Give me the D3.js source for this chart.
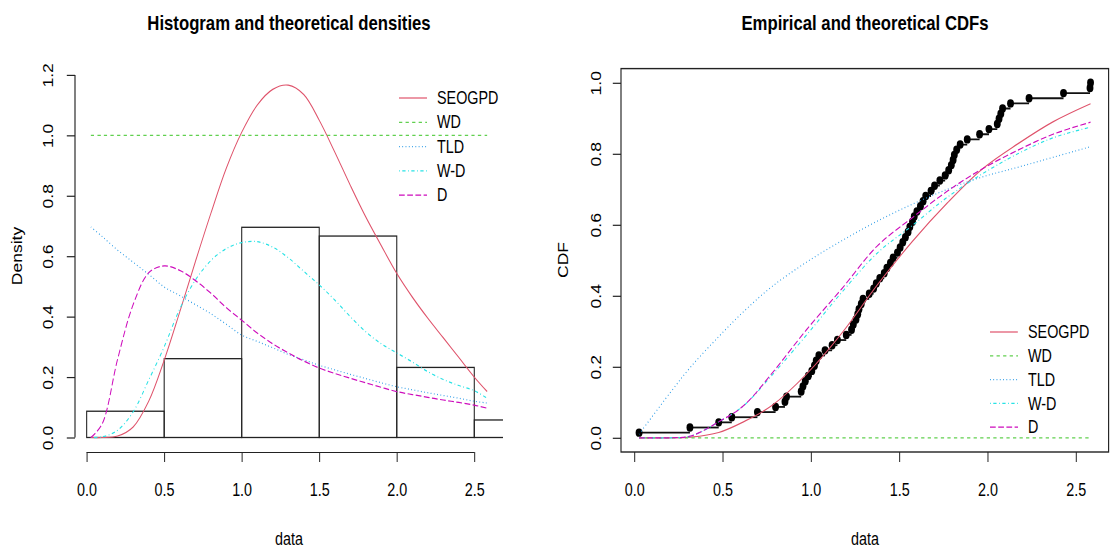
<!DOCTYPE html>
<html>
<head>
<meta charset="utf-8">
<script src="https://cdn.jsdelivr.net/npm/d3@7"></script>
<style>
  body { margin: 0; background: #fff; }
  text { font-family: "Liberation Sans", Arial, sans-serif; fill: #000; }
</style>
</head>
<body>
<svg id="chart"></svg>
<script>
var data = [0.027, 0.315, 0.478,
  0.552, 0.697, 0.800, 0.853, 0.862, 0.945, 0.955, 0.968, 0.985,
  1.005, 1.02, 1.03, 1.045, 1.08, 1.12, 1.15, 1.20, 1.23, 1.24, 1.255, 1.265,
  1.272, 1.285, 1.295, 1.33, 1.355, 1.37, 1.39, 1.415, 1.43, 1.45, 1.465, 1.49,
  1.505, 1.52, 1.535, 1.55, 1.56, 1.575, 1.585, 1.60, 1.62, 1.635, 1.65, 1.68,
  1.70, 1.73, 1.76, 1.78, 1.795, 1.805, 1.812, 1.825, 1.845, 1.885, 1.955,
  2.008, 2.055, 2.065, 2.075, 2.085, 2.13, 2.235, 2.43,
  2.58, 2.583];

var histBreaks = [0.5, 1, 1.5, 2, 2.5];

// theoretical densities
var densX      = [0.027, 0.1, 0.2, 0.3, 0.4, 0.5, 0.6, 0.7, 0.8, 0.9, 1.0, 1.1, 1.2, 1.3, 1.4, 1.5, 1.6, 1.7, 1.8, 1.9, 2.0, 2.1, 2.2, 2.3, 2.4, 2.5, 2.583];
var seogpdDens = [0, 0, 0.005, 0.035, 0.12, 0.256, 0.415, 0.58, 0.74, 0.89, 1.01, 1.1, 1.152, 1.166, 1.135, 1.05, 0.945, 0.835, 0.73, 0.635, 0.543, 0.465, 0.395, 0.33, 0.265, 0.2, 0.152];
var wdDens     = [1, 1, 1, 1, 1, 1, 1, 1, 1, 1, 1, 1, 1, 1, 1, 1, 1, 1, 1, 1, 1, 1, 1, 1, 1, 1, 1];
var tldDens    = [0.697, 0.665, 0.62, 0.58, 0.54, 0.498, 0.47, 0.44, 0.41, 0.375, 0.339, 0.318, 0.297, 0.275, 0.257, 0.239, 0.224, 0.209, 0.195, 0.181, 0.168, 0.158, 0.148, 0.139, 0.13, 0.12, 0.114];
var wdmDens    = [0, 0.002, 0.024, 0.085, 0.19, 0.30, 0.425, 0.52, 0.585, 0.625, 0.645, 0.648, 0.63, 0.595, 0.55, 0.505, 0.455, 0.4, 0.35, 0.31, 0.28, 0.25, 0.218, 0.192, 0.172, 0.155, 0.13];
var dDens      = [0, 0.045, 0.26, 0.44, 0.545, 0.568, 0.553, 0.52, 0.478, 0.43, 0.388, 0.346, 0.31, 0.28, 0.253, 0.23, 0.212, 0.196, 0.181, 0.166, 0.152, 0.142, 0.133, 0.124, 0.116, 0.107, 0.097];

// theoretical CDFs
var cdfX      = [0.027, 0.2, 0.32, 0.478, 0.618, 0.777, 0.976, 1.175, 1.375, 1.574, 1.773, 1.972, 2.171, 2.37, 2.583];
var seogpdCdf = [0, 0, 0.002, 0.015, 0.045, 0.09, 0.18, 0.295, 0.43, 0.553, 0.662, 0.758, 0.828, 0.89, 0.941];
var wdCdf     = [0, 0, 0, 0, 0, 0, 0, 0, 0, 0, 0, 0, 0, 0, 0];
var tldCdf    = [0.01, 0.125, 0.2, 0.285, 0.355, 0.425, 0.495, 0.555, 0.61, 0.658, 0.70, 0.735, 0.762, 0.79, 0.82];
var wdmCdf    = [0, 0, 0.005, 0.045, 0.09, 0.175, 0.29, 0.41, 0.52, 0.598, 0.678, 0.744, 0.80, 0.845, 0.875];
var dCdf      = [0, 0, 0.005, 0.045, 0.09, 0.18, 0.305, 0.42, 0.54, 0.62, 0.695, 0.758, 0.81, 0.855, 0.889];

var models = ["SEOGPD", "WD", "TLD", "W-D", "D"];
var colors = ["#DF536B", "#61D04F", "#2297E6", "#28E2E5", "#CD0BBC"];
var dashes = [null, "4,4", "1,3", "1,3,4,3", "7,3"];

var xTicks = [0, 0.5, 1, 1.5, 2, 2.5];
var densTicks = [0, 0.2, 0.4, 0.6, 0.8, 1.0, 1.2];
var cdfTicks = [0, 0.2, 0.4, 0.6, 0.8, 1.0];

// the picture is squeezed sideways, so draw wider and squash with the viewBox
var S = 0.82, W = 1112 / S;
function X(px) { return px / S; }

var svg = d3.select("#chart")
    .attr("width", 1112).attr("height", 550)
    .attr("viewBox", "0 0 " + W + " 550")
    .attr("preserveAspectRatio", "none");

var fmt = d3.format(".1f");
var ext = d3.extent(data), pad = 0.04 * (ext[1] - ext[0]);

function curves(g, xs, series, x, y) {
    var line = d3.line()
        .x(function(d) { return x(d[0]); })
        .y(function(d) { return y(d[1]); })
        .curve(d3.curveCatmullRom.alpha(0.5));
    series.forEach(function(s, i) {
        g.append("path")
            .attr("d", line(xs.map(function(v, j) { return [v, s[j]]; })))
            .attr("fill", "none")
            .attr("stroke", colors[i])
            .attr("stroke-width", 1.2)
            .attr("stroke-dasharray", dashes[i]);
    });
}

function legend(x0, y0, step) {
    var lg = svg.append("g");
    models.forEach(function(m, i) {
        var yy = y0 + i * step;
        lg.append("line")
            .attr("x1", X(x0)).attr("x2", X(x0 + 28))
            .attr("y1", yy).attr("y2", yy)
            .attr("stroke", colors[i]).attr("stroke-width", 1.2)
            .attr("stroke-dasharray", dashes[i]);
        lg.append("text")
            .attr("x", X(x0 + 38)).attr("y", yy).attr("dy", "0.35em")
            .style("font-size", "17.5px")
            .text(m);
    });
}

function bottomAxis(x, y0) {
    var g = svg.append("g")
        .attr("transform", "translate(0," + y0 + ")")
        .call(d3.axisBottom(x).tickValues(xTicks).tickSize(10).tickFormat(fmt));
    g.select(".domain").remove();
    g.selectAll("line").attr("stroke", "#222").attr("stroke-width", 1.2);
    g.selectAll("text").attr("y", 38).attr("dy", "0.35em")
        .style("font-size", "17.5px").style("font-family", null);
    return g;
}

function leftAxis(y, x0, ticks, off) {
    var g = svg.append("g")
        .attr("transform", "translate(" + x0 + ",0)")
        .call(d3.axisLeft(y).tickValues(ticks).tickSize(10).tickFormat(fmt));
    g.select(".domain").remove();
    g.selectAll("line").attr("stroke", "#222").attr("stroke-width", 1.2);
    g.selectAll("text")
        .attr("x", null).attr("dy", "0.35em")
        .attr("text-anchor", "middle")
        .attr("transform", "translate(" + X(-off) + ",0) rotate(-90)")
        .style("font-size", "17.5px").style("font-family", null);
    return g;
}

// ---------- left panel: histogram and densities ----------
var xL = d3.scaleLinear().domain([ext[0] - pad, ext[1] + pad]).range([X(75), X(503)]);
var yL = d3.scaleLinear().domain([-0.048, 1.248]).range([452, 60.4]);

svg.append("clipPath").attr("id", "clipL").append("rect")
    .attr("x", X(75)).attr("y", 60.4).attr("width", X(503) - X(75)).attr("height", 452 - 60.4);

var gL = svg.append("g").attr("clip-path", "url(#clipL)");

var bins = d3.bin().domain([0, 3]).thresholds(histBreaks)(data);
gL.selectAll("rect.bar").data(bins).enter().append("rect")
    .attr("class", "bar")
    .attr("x", function(b) { return xL(b.x0); })
    .attr("width", function(b) { return xL(b.x1) - xL(b.x0); })
    .attr("y", function(b) { return yL(b.length / (data.length * (b.x1 - b.x0))); })
    .attr("height", function(b) { return yL(0) - yL(b.length / (data.length * (b.x1 - b.x0))); })
    .attr("fill", "none").attr("stroke", "#222").attr("stroke-width", 1.3);

curves(gL, densX, [seogpdDens, wdDens, tldDens, wdmDens, dDens], xL, yL);

bottomAxis(xL, 452);
svg.append("line")
    .attr("x1", xL(0)).attr("x2", xL(2.5)).attr("y1", 452.5).attr("y2", 452.5)
    .attr("stroke", "#222").attr("stroke-width", 1.2);
leftAxis(yL, X(75), densTicks, 27);
svg.append("line")
    .attr("x1", X(75)).attr("x2", X(75)).attr("y1", yL(0)).attr("y2", yL(1.2))
    .attr("stroke", "#222").attr("stroke-width", 1.4);

legend(399, 98, 24.3);

svg.append("text").attr("x", X(289)).attr("y", 23).attr("dy", "0.35em")
    .attr("text-anchor", "middle").style("font-size", "20.4px").style("font-weight", "bold")
    .text("Histogram and theoretical densities");
svg.append("text").attr("x", X(289)).attr("y", 539).attr("dy", "0.35em")
    .attr("text-anchor", "middle").style("font-size", "17.5px").text("data");
svg.append("text").attr("transform", "translate(" + X(17) + ",256) rotate(-90)")
    .attr("dy", "0.35em").attr("text-anchor", "middle").style("font-size", "17.5px").text("Density");

// ---------- right panel: ECDF and CDFs ----------
var xR = d3.scaleLinear().domain([ext[0] - pad, ext[1] + pad]).range([X(621), X(1108.6)]);
var yR = d3.scaleLinear().domain([-0.04, 1.04]).range([452, 68.6]);

svg.append("clipPath").attr("id", "clipR").append("rect")
    .attr("x", X(621)).attr("y", 68.6).attr("width", X(1108.6) - X(621)).attr("height", 452 - 68.6);

var gR = svg.append("g").attr("clip-path", "url(#clipR)");
var n = data.length;

gR.selectAll("line.step").data(data.slice(0, n - 1)).enter().append("line")
    .attr("class", "step")
    .attr("x1", function(d) { return xR(d); })
    .attr("x2", function(d, i) { return xR(data[i + 1]); })
    .attr("y1", function(d, i) { return yR((i + 1) / n); })
    .attr("y2", function(d, i) { return yR((i + 1) / n); })
    .attr("stroke", "#111").attr("stroke-width", 1.8);

gR.selectAll("circle").data(data).enter().append("circle")
    .attr("cx", function(d) { return xR(d); })
    .attr("cy", function(d, i) { return yR((i + 1) / n); })
    .attr("r", 4.2).attr("fill", "#000");

curves(gR, cdfX, [seogpdCdf, wdCdf, tldCdf, wdmCdf, dCdf], xR, yR);

svg.append("rect")
    .attr("x", X(621)).attr("y", 68.6).attr("width", X(1108.6) - X(621)).attr("height", 452 - 68.6)
    .attr("fill", "none").attr("stroke", "#222").attr("stroke-width", 1.4);

bottomAxis(xR, 452);
leftAxis(yR, X(621), cdfTicks, 25);

legend(990, 332, 23.8);

svg.append("text").attr("x", X(865)).attr("y", 23).attr("dy", "0.35em")
    .attr("text-anchor", "middle").style("font-size", "20.4px").style("font-weight", "bold")
    .text("Empirical and theoretical CDFs");
svg.append("text").attr("x", X(865)).attr("y", 539).attr("dy", "0.35em")
    .attr("text-anchor", "middle").style("font-size", "17.5px").text("data");
svg.append("text").attr("transform", "translate(" + X(563) + ",260) rotate(-90)")
    .attr("dy", "0.35em").attr("text-anchor", "middle").style("font-size", "17.5px").text("CDF");
</script>
</body>
</html>
